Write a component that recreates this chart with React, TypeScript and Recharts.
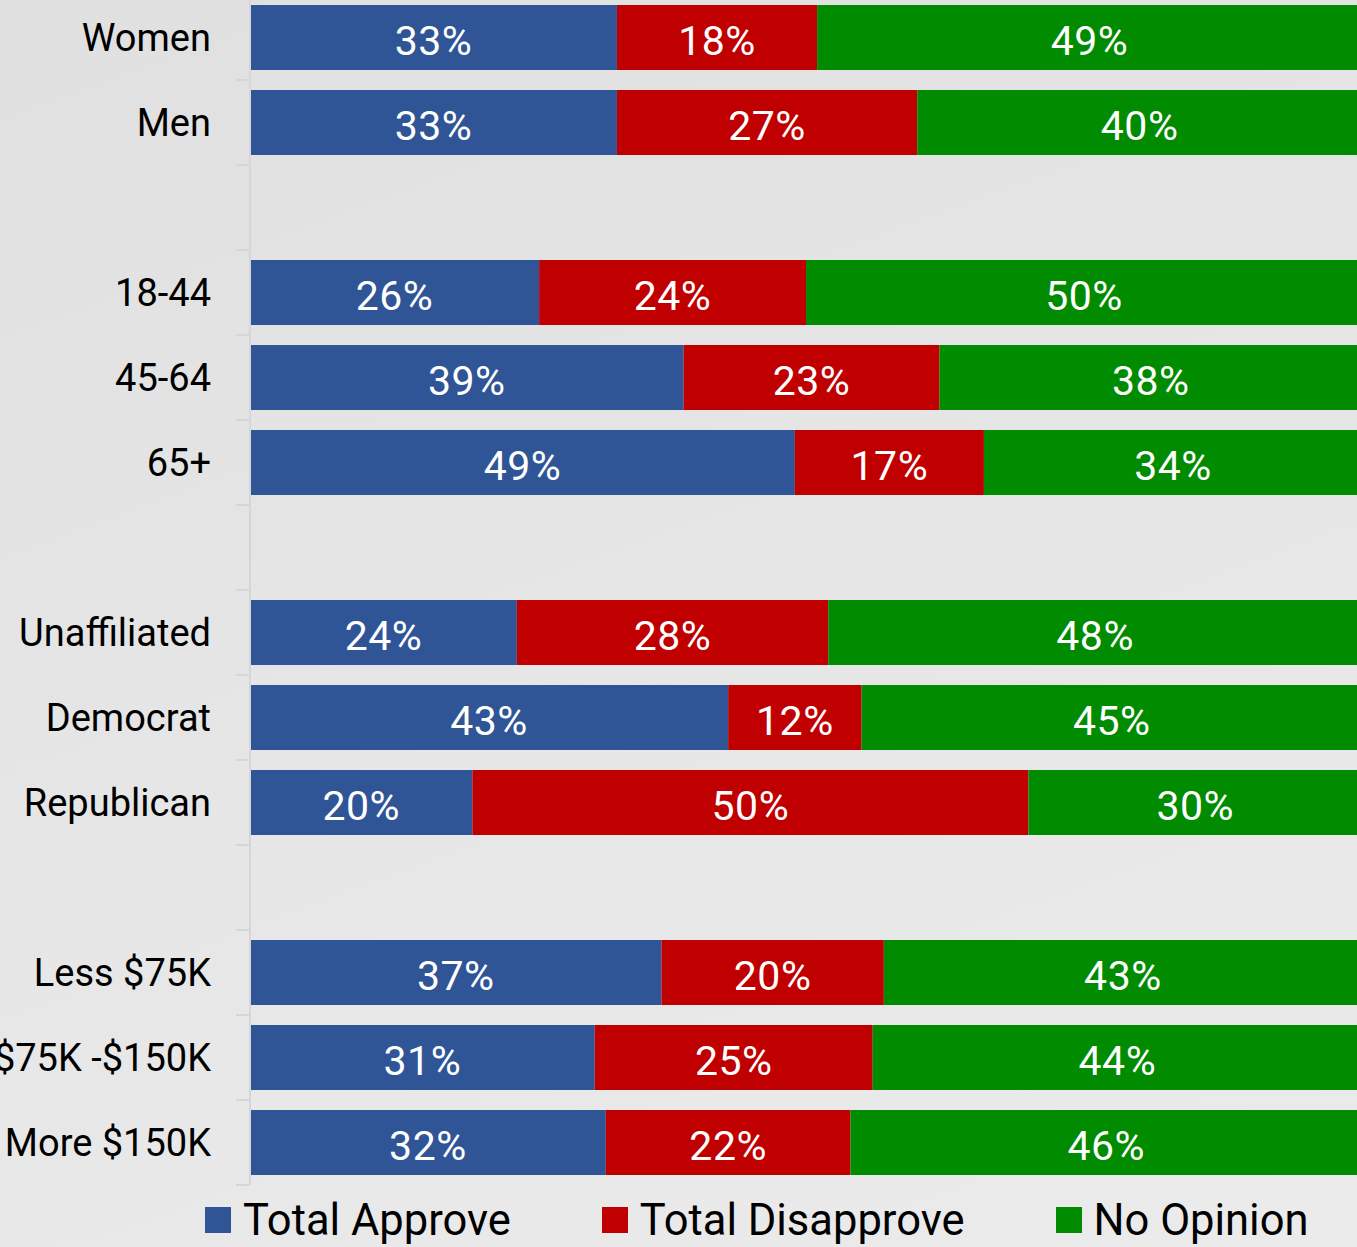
import { BarChart, Bar, XAxis, YAxis, Legend, LabelList } from 'recharts';

const categories = [
  'Women',
  'Men',
  ' ',
  '18-44',
  '45-64',
  '65+',
  '  ',
  'Unaffiliated',
  'Democrat',
  'Republican',
  '   ',
  'Less $75K',
  '$75K -$150K',
  'More $150K',
];

const approve = [33, 33, null, 26, 39, 49, null, 24, 43, 20, null, 37, 31, 32];
const disapprove = [18, 27, null, 24, 23, 17, null, 28, 12, 50, null, 20, 25, 22];
const noOpinion = [49, 40, null, 50, 38, 34, null, 48, 45, 30, null, 43, 44, 46];

const SERIES = [
  { key: 'approve', name: 'Total Approve', color: '#2F5597' },
  { key: 'disapprove', name: 'Total Disapprove', color: '#C00000' },
  { key: 'noOpinion', name: 'No Opinion', color: '#008B00' },
];

const data = categories.map((name, i) => ({
  name,
  approve: approve[i],
  disapprove: disapprove[i],
  noOpinion: noOpinion[i],
}));

const FONT = 'Roboto, "Noto Sans", sans-serif';

function CategoryTick({ y, payload }: { y?: number; payload?: { value: string } }) {
  const cy = y ?? 0;
  return (
    <g>
      <text x={211} y={cy + 13} textAnchor="end" fontSize={38} fill="#000" fontFamily={FONT}>
        {payload?.value}
      </text>
      <line x1={236} x2={249} y1={cy + 42.5} y2={cy + 42.5} stroke="#d6d6d6" strokeWidth={2} />
    </g>
  );
}

function ValueLabel(props: { x?: number; y?: number; width?: number; height?: number; value?: number | null }) {
  const { x = 0, y = 0, width = 0, height = 0, value } = props;
  if (value == null) return null;
  return (
    <text
      x={x + width / 2}
      y={y + height / 2 + 17}
      textAnchor="middle"
      fontSize={41}
      fill="#fff"
      fontFamily={FONT}
      letterSpacing={0.5}
    >
      {value}%
    </text>
  );
}

function LegendContent() {
  return (
    <div
      style={{
        height: 70,
        display: 'flex',
        alignItems: 'center',
        paddingLeft: 205,
        fontFamily: FONT,
        fontSize: 43.5,
        color: '#000',
        whiteSpace: 'nowrap',
      }}
    >
      {SERIES.map((s) => (
        <div key={s.key} style={{ display: 'flex', alignItems: 'center', marginRight: 91, flexShrink: 0 }}>
          <span style={{ width: 26, height: 26, background: s.color, display: 'inline-block', marginRight: 12 }} />
          <span>{s.name}</span>
        </div>
      ))}
    </div>
  );
}

export default function App() {
  return (
    <div
      style={{
        position: 'fixed',
        left: 0,
        top: 0,
        width: 1357,
        height: 1247,
        overflow: 'hidden',
        background: 'linear-gradient(160deg, #e0e0e0 0%, #e6e6e6 50%, #ebebeb 100%)',
      }}
    >
      <div style={{ position: 'absolute', left: 0, top: -5 }}>
        <BarChart
          layout="vertical"
          width={1365}
          height={1260}
          data={data}
          margin={{ top: 0, right: 3, bottom: 0, left: 0 }}
        >
          <XAxis type="number" domain={[0, 100]} hide />
          <YAxis
            type="category"
            dataKey="name"
            width={250}
            axisLine={{ stroke: '#d6d6d6', strokeWidth: 2 }}
            tickLine={false}
            tick={<CategoryTick />}
            interval={0}
          />
          <Legend
            verticalAlign="bottom"
            content={<LegendContent />}
            wrapperStyle={{ left: 0, width: 1365 }}
          />
          {SERIES.map((s) => (
            <Bar
              key={s.key}
              dataKey={s.key}
              name={s.name}
              stackId="a"
              fill={s.color}
              barSize={65}
              isAnimationActive={false}
            >
              <LabelList dataKey={s.key} content={<ValueLabel />} />
            </Bar>
          ))}
        </BarChart>
      </div>
    </div>
  );
}
